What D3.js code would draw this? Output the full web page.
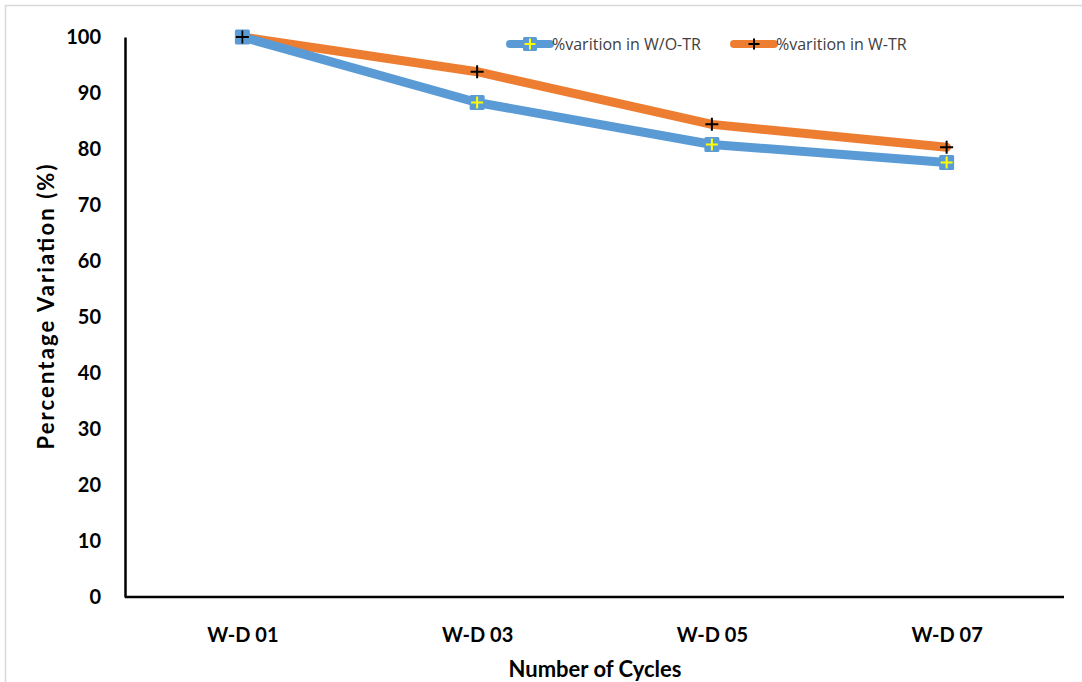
<!doctype html>
<html lang="en">
<head>
    <meta charset="utf-8">
    <title>Percentage Variation</title>
    <script src="https://d3js.org/d3.v7.min.js"></script>
    <style>
        body { margin: 0; background: #fff; }
        svg { display: block; }
    </style>
</head>
<body>
<script>
    // chart data
    const cycles = ["W-D 01", "W-D 03", "W-D 05", "W-D 07"]
    const withoutTR = [100, 88.3, 80.8, 77.6]
    const withTR = [100, 93.8, 84.4, 80.3]
    const yTicks = [0, 10, 20, 30, 40, 50, 60, 70, 80, 90, 100]
    const seriesNames = ["%varition in W/O-TR", "%varition in W-TR"]

    const width = 1082
    const height = 682
    const margin = { left: 125, right: 18, top: 37, bottom: 85 }

    const svg = d3.select("body").append("svg")
        .attr("width", width)
        .attr("height", height)
        .attr("font-family", "Lato, 'Open Sans', sans-serif")

    // light frame around the chart area
    svg.append("rect")
        .attr("x", 5.5).attr("y", 5.5)
        .attr("width", width).attr("height", height)
        .attr("fill", "none")
        .attr("stroke", "#d9d9d9")
        .attr("stroke-width", 1.5)

    let x = d3.scalePoint()
        .domain(cycles)
        .range([margin.left, width - margin.right])
        .padding(0.5)

    let y = d3.scaleLinear()
        .domain([0, 100])
        .range([height - margin.bottom, margin.top])

    // axes
    const xAxis = svg.append("g")
        .attr("transform", `translate(0,${y(0)})`)
        .call(d3.axisBottom(x).tickSize(0).tickPadding(0))
    xAxis.select(".domain")
        .attr("d", `M${margin.left},0H${width - margin.right}`)
        .attr("stroke", "#000").attr("stroke-width", 2.5)
    xAxis.selectAll("text")
        .attr("dy", null)
        .attr("y", 45)
        .attr("font-size", 20).attr("font-weight", "bold").attr("fill", "#000")
        .attr("font-family", "Lato, sans-serif")

    const yAxis = svg.append("g")
        .attr("transform", `translate(${margin.left},0)`)
        .call(d3.axisLeft(y).tickValues(yTicks).tickSize(0).tickPadding(24))
    yAxis.select(".domain")
        .attr("stroke", "#000").attr("stroke-width", 2.5)
    yAxis.selectAll("text")
        .attr("font-size", 20).attr("font-weight", "bold").attr("fill", "#000")
        .attr("font-family", "Lato, sans-serif")

    // axis titles
    svg.append("text")
        .attr("x", 595)
        .attr("y", 677)
        .attr("text-anchor", "middle")
        .attr("font-size", 22).attr("font-weight", "bold")
        .text("Number of Cycles")

    svg.append("text")
        .attr("transform", `translate(54,307) rotate(-90)`)
        .attr("text-anchor", "middle")
        .attr("font-size", 22).attr("font-weight", "bold")
        .attr("textLength", 285)
        .text("Percentage Variation (%)")

    const blue = "#5B9BD5"
    const orange = "#ED7D31"

    let line = d3.line()
        .x((d, i) => x(cycles[i]))
        .y(d => y(d))

    function plusPath(s) {
        return `M${-s},0H${s}M0,${-s}V${s}`
    }

    // W-TR series (orange), drawn first so blue sits on top at the start
    svg.append("path")
        .datum(withTR)
        .attr("d", line)
        .attr("fill", "none")
        .attr("stroke", orange)
        .attr("stroke-width", 9)
        .attr("stroke-linejoin", "round")
        .attr("stroke-linecap", "round")

    svg.append("path")
        .datum(withoutTR)
        .attr("d", line)
        .attr("fill", "none")
        .attr("stroke", blue)
        .attr("stroke-width", 9)
        .attr("stroke-linejoin", "round")
        .attr("stroke-linecap", "round")

    // blue markers: square with yellow plus
    const bm = svg.append("g").selectAll("g")
        .data(withoutTR)
        .join("g")
        .attr("transform", (d, i) => `translate(${x(cycles[i])},${y(d)})`)
    bm.append("rect")
        .attr("x", -7.5).attr("y", -7.5).attr("width", 15).attr("height", 15)
        .attr("rx", 1.5)
        .attr("fill", blue)
    bm.append("path")
        .attr("d", plusPath(6))
        .attr("stroke", "#FFFF00").attr("stroke-width", 2)

    // orange markers: black plus
    svg.append("g").selectAll("path")
        .data(withTR)
        .join("path")
        .attr("transform", (d, i) => `translate(${x(cycles[i])},${y(d)})`)
        .attr("d", plusPath(6.5))
        .attr("stroke", "#000").attr("stroke-width", 2)

    // legend
    const legend = svg.append("g")
        .attr("font-size", 16)
        .attr("font-family", "'Open Sans', sans-serif")
    const legendItems = [
        { name: seriesNames[0], color: blue, x0: 510, mark: "blue" },
        { name: seriesNames[1], color: orange, x0: 734, mark: "orange" }
    ]
    legendItems.forEach(it => {
        const g = legend.append("g").attr("transform", `translate(${it.x0},44)`)
        g.append("line")
            .attr("x1", 0).attr("x2", 40)
            .attr("stroke", it.color).attr("stroke-width", 8)
            .attr("stroke-linecap", "round")
        if (it.mark === "blue") {
            g.append("rect")
                .attr("x", 13).attr("y", -7).attr("width", 14).attr("height", 14)
                .attr("rx", 1.5).attr("fill", blue)
            g.append("path").attr("transform", "translate(20,0)")
                .attr("d", plusPath(5.5))
                .attr("stroke", "#FFFF00").attr("stroke-width", 2)
        } else {
            g.append("path").attr("transform", "translate(20,0)")
                .attr("d", plusPath(5.5))
                .attr("stroke", "#000").attr("stroke-width", 2)
        }
        g.append("text")
            .attr("x", 42).attr("dy", "0.35em")
            .attr("fill", "#404040")
            .text(it.name)
    })
</script>
</body>
</html>
